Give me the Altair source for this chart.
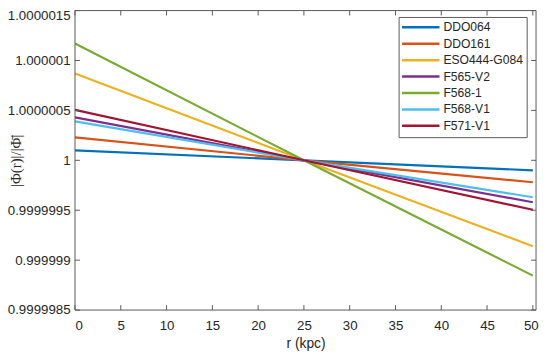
import altair as alt
import pandas as pd

# Data (values at r = 0, 25, 50 kpc)
r_points = [0, 25, 50]
series = ["DDO064", "DDO161", "ESO444-G084", "F565-V2", "F568-1", "F568-V1", "F571-V1"]
ddo064 = [1.00000010, 1.0, 0.99999990]
ddo161 = [1.00000023, 1.0, 0.99999978]
eso444 = [1.00000087, 1.0, 0.99999914]
f565v2 = [1.00000043, 1.0, 0.99999958]
f5681 = [1.00000117, 1.0, 0.999998845]
f568v1 = [1.00000039, 1.0, 0.99999963]
f571v1 = [1.000000505, 1.0, 0.999999505]
colors = ["#0072BD", "#D95319", "#EDB120", "#7E2F8E", "#77AC30", "#4DBEEE", "#A2142F"]

x_ticks = [0, 5, 10, 15, 20, 25, 30, 35, 40, 45, 50]
y_ticks = [0.9999985, 0.999999, 0.9999995, 1.0, 1.0000005, 1.000001, 1.0000015]

vals = [ddo064, ddo161, eso444, f565v2, f5681, f568v1, f571v1]
rows = []
for name, v in zip(series, vals):
    for r, p in zip(r_points, v):
        rows.append({"r": r, "phi": p, "galaxy": name})
df = pd.DataFrame(rows)
legend_df = pd.DataFrame({"galaxy": series})
one = pd.DataFrame({"k": [0]})

W, H = 468, 304
TXT = "#262626"
FRAME = "#595959"
FONT = "Liberation Sans"

xscale = alt.Scale(domain=[0, 50.35], nice=False, zero=False)
yscale = alt.Scale(domain=[0.9999985, 1.0000015], nice=False, zero=False)
cscale = alt.Scale(domain=series, range=colors)

xaxis = alt.Axis(values=x_ticks, title="r (kpc)", ticks=False, domain=False,
                 grid=False, labelPadding=9, titlePadding=5,
                 labelFontSize=13.5, titleFontSize=14, titleFontWeight="normal",
                 labelFont=FONT, titleFont=FONT, labelColor=TXT, titleColor=TXT,
                 labelOffset={"condition": {"test": "datum.value >= 50", "value": -2},
                              "value": 0})
yaxis = alt.Axis(values=y_ticks, format=".7~f", title="|Φ(r)|/|Φ̄|", ticks=False,
                 domain=False, grid=False, labelPadding=5, labelFontSize=13.5,
                 labelFont=FONT, labelColor=TXT, titleColor=TXT,
                 titleFont="Liberation Serif", titleFontSize=15,
                 titleFontWeight="normal", titleX=-60, titleY=H / 2,
                 titleBaseline="middle", titleAngle=-90,
                 labelOffset={"condition": {"test": "datum.value > 1.0000012", "value": 5},
                              "value": 0})

lines = alt.Chart(df).mark_line(strokeWidth=2.2, clip=True).encode(
    x=alt.X("r:Q", scale=xscale, axis=xaxis),
    y=alt.Y("phi:Q", scale=yscale, axis=yaxis),
    color=alt.Color("galaxy:N", scale=cscale, legend=None),
    order="galaxy:N",
)

ydf = pd.DataFrame({"v": y_ticks})
xdf = pd.DataFrame({"t": x_ticks})
tick_l = alt.Chart(ydf).mark_rule(color=FRAME, strokeWidth=1).encode(
    y=alt.Y("v:Q", scale=yscale, axis=yaxis), x=alt.value(0), x2=alt.value(5))
tick_r = alt.Chart(ydf).mark_rule(color=FRAME, strokeWidth=1).encode(
    y=alt.Y("v:Q", scale=yscale, axis=yaxis), x=alt.value(W - 5), x2=alt.value(W))
tick_b = alt.Chart(xdf).mark_rule(color=FRAME, strokeWidth=1).encode(
    x=alt.X("t:Q", scale=xscale, axis=xaxis), y=alt.value(H - 5), y2=alt.value(H))
tick_t = alt.Chart(xdf).mark_rule(color=FRAME, strokeWidth=1).encode(
    x=alt.X("t:Q", scale=xscale, axis=xaxis), y=alt.value(0), y2=alt.value(5))

main = alt.layer(lines, tick_l, tick_r, tick_b, tick_t)

frame = alt.Chart(one).mark_rect(fill="transparent", stroke=FRAME, strokeWidth=1).encode(
    x=alt.value(0), x2=alt.value(W), y=alt.value(0), y2=alt.value(H))

# manual legend (MATLAB style box)
LX0, LX1, LY0, LY1 = 329, 459, 7, 129
rowscale = alt.Scale(type="point", domain=series, range=[17, 117], padding=0)
leg_box = alt.Chart(one).mark_rect(fill="white", stroke=FRAME, strokeWidth=1).encode(
    x=alt.value(LX0), x2=alt.value(LX1), y=alt.value(LY0), y2=alt.value(LY1))
leg_lines = alt.Chart(legend_df).mark_rule(strokeWidth=2.5).encode(
    x=alt.value(LX0 + 3), x2=alt.value(LX0 + 41),
    y=alt.Y("galaxy:N", scale=rowscale, axis=None),
    color=alt.Color("galaxy:N", scale=cscale, legend=None))
leg_text = alt.Chart(legend_df).mark_text(
    align="left", baseline="middle", font=FONT, fontSize=12.3, color=TXT).encode(
    x=alt.value(LX0 + 45),
    y=alt.Y("galaxy:N", scale=rowscale, axis=None),
    text="galaxy:N")

chart = alt.layer(main, frame, leg_box, leg_lines, leg_text).resolve_scale(
    y="independent"
).properties(
    width=W, height=H,
    background="white",
    autosize=alt.AutoSizeParams(type="none"),
    padding={"left": 68, "top": 0, "right": 3, "bottom": 42},
).configure_view(strokeWidth=0)

chart.save("out.html", embed_options={"renderer": "svg", "actions": False})
